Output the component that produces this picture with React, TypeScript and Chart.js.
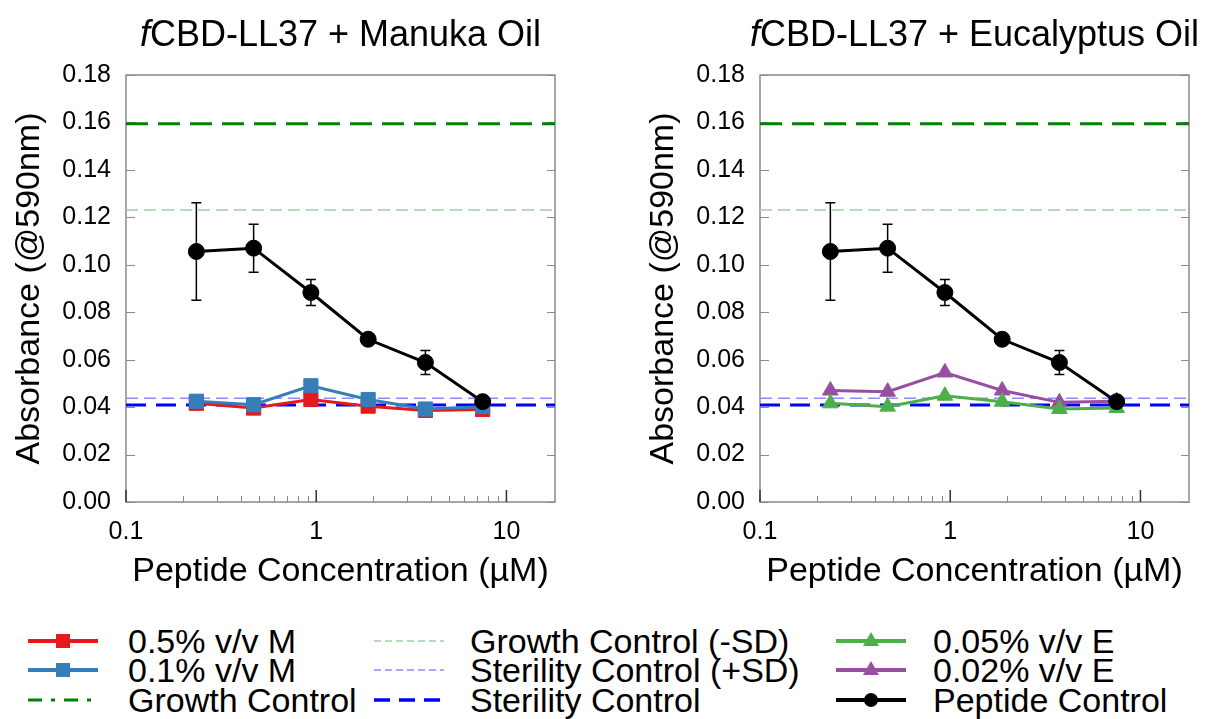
import React, { useEffect, useRef } from 'react';
import { Chart, registerables } from 'chart.js';

Chart.register(...registerables);

// ---- data ----
const concentrations = [0.234375, 0.46875, 0.9375, 1.875, 3.75, 7.5];

const peptideControl = [0.1056, 0.107, 0.0883, 0.0686, 0.0588, 0.0423];
const peptideControlSD = [0.0206, 0.0101, 0.0055, 0.002, 0.0051, 0.001];

const manuka05 = [0.0416, 0.0396, 0.0432, 0.0404, 0.0386, 0.039];
const manuka01 = [0.0425, 0.041, 0.049, 0.0432, 0.0392, 0.0402];

const eucalyptus005 = [0.0416, 0.0402, 0.0448, 0.0423, 0.0392, 0.0396];
const eucalyptus002 = [0.047, 0.0465, 0.0546, 0.047, 0.042, 0.0425];

const growthControl = 0.1594;
const growthControlMinusSD = 0.1231;
const sterilityControlPlusSD = 0.0437;
const sterilityControl = 0.0409;

const xMin = 0.1;
const xMax = 18;
const xMajorTicks = [0.1, 1, 10];
const xMinorTicks = [0.2, 0.3, 0.4, 0.5, 0.6, 0.7, 0.8, 0.9, 2, 3, 4, 5, 6, 7, 8, 9];
const yMin = 0;
const yMax = 0.18;
const yStep = 0.02;

const legendCol1 = ['0.5% v/v M', '0.1% v/v M', 'Growth Control'];
const legendCol2 = ['Growth Control (-SD)', 'Sterility Control (+SD)', 'Sterility Control'];
const legendCol3 = ['0.05% v/v E', '0.02% v/v E', 'Peptide Control'];

// ---- styles ----
const FONT = '"Liberation Sans", Arial, Helvetica, sans-serif';
const RED = '#e41a1c';
const BLUE = '#377eb8';
const GREEN = '#4daf4a';
const PURPLE = '#984ea3';
const GROWTH = '#008000';
const GROWTH_SD = '#a3d0a3';
const STERILE = '#0000ff';
const STERILE_SD = '#8c8cff';
const AXIS = '#8a8a8a';

const toPoints = (vals: number[]) => concentrations.map((c, i) => ({ x: c, y: vals[i] }));
const hLine = (v: number) => [
  { x: xMin, y: v },
  { x: xMax, y: v },
];

function seriesDataset(label: string, vals: number[], color: string, style: string, radius: number) {
  return {
    label,
    data: toPoints(vals),
    borderColor: color,
    backgroundColor: color,
    borderWidth: 3,
    pointStyle: style,
    pointRadius: radius,
    pointBorderWidth: 1,
    pointBorderColor: color,
    pointBackgroundColor: color,
  };
}

function refDataset(label: string, v: number, color: string, width: number, dash: number[]) {
  return {
    label,
    data: hLine(v),
    borderColor: color,
    backgroundColor: color,
    borderWidth: width,
    borderDash: dash,
    pointRadius: 0,
  };
}

function controlDatasets() {
  return [
    refDataset('Sterility Control', sterilityControl, STERILE, 3, [20, 10]),
    refDataset('Sterility Control (+SD)', sterilityControlPlusSD, STERILE_SD, 1.5, [12, 6]),
    refDataset('Growth Control (-SD)', growthControlMinusSD, GROWTH_SD, 1.5, [12, 6]),
    refDataset('Growth Control', growthControl, GROWTH, 3, [22, 10]),
  ];
}

// frame around the plot with inward tick marks
const framePlugin = {
  id: 'frame',
  beforeDatasetsDraw(chart: any) {
    const { ctx, chartArea: a, scales } = chart;
    const x = scales.x;
    const y = scales.y;
    ctx.save();
    ctx.strokeStyle = AXIS;
    ctx.lineWidth = 1.5;
    ctx.strokeRect(a.left, a.top, a.right - a.left, a.bottom - a.top);
    ctx.beginPath();
    ctx.lineWidth = 1;
    for (const t of y.ticks) {
      const py = Math.round(y.getPixelForValue(t.value)) + 0.5;
      ctx.moveTo(a.left, py);
      ctx.lineTo(a.left + 9, py);
      ctx.moveTo(a.right, py);
      ctx.lineTo(a.right - 8, py);
    }
    for (const v of xMinorTicks) {
      const px = Math.round(x.getPixelForValue(v)) + 0.5;
      ctx.moveTo(px, a.bottom);
      ctx.lineTo(px, a.bottom - 6);
    }
    ctx.stroke();
    ctx.beginPath();
    ctx.strokeStyle = '#333';
    ctx.lineWidth = 1.5;
    for (const v of xMajorTicks) {
      const px = x.getPixelForValue(v);
      ctx.moveTo(px, a.bottom);
      ctx.lineTo(px, a.bottom - 12);
    }
    ctx.stroke();
    ctx.restore();
  },
};

// vertical error bars for datasets carrying an `errors` array
const errorBarPlugin = {
  id: 'errorBars',
  afterDatasetsDraw(chart: any) {
    const { ctx, scales } = chart;
    const y = scales.y;
    chart.data.datasets.forEach((ds: any, di: number) => {
      if (!ds.errors) return;
      const meta = chart.getDatasetMeta(di);
      ctx.save();
      ctx.strokeStyle = '#000';
      ctx.lineWidth = 1.5;
      meta.data.forEach((pt: any, i: number) => {
        const v = ds.data[i].y;
        const e = ds.errors[i];
        const top = y.getPixelForValue(v + e);
        const bot = y.getPixelForValue(v - e);
        ctx.beginPath();
        ctx.moveTo(pt.x, top);
        ctx.lineTo(pt.x, bot);
        ctx.moveTo(pt.x - 5, top);
        ctx.lineTo(pt.x + 5, top);
        ctx.moveTo(pt.x - 5, bot);
        ctx.lineTo(pt.x + 5, bot);
        ctx.stroke();
      });
      ctx.restore();
    });
  },
};

// panel title with an italic leading letter, centred over the plot area
const panelTitlePlugin = {
  id: 'panelTitle',
  afterDraw(chart: any, _args: any, opts: any) {
    if (!opts || !opts.text) return;
    const { ctx, chartArea: a } = chart;
    ctx.save();
    const italic = `italic 36px ${FONT}`;
    const normal = `36px ${FONT}`;
    ctx.font = italic;
    const w1 = ctx.measureText(opts.prefix).width;
    ctx.font = normal;
    const w2 = ctx.measureText(opts.text).width;
    const start = (a.left + a.right) / 2 - (w1 + w2) / 2;
    ctx.fillStyle = '#000';
    ctx.textBaseline = 'alphabetic';
    ctx.textAlign = 'left';
    ctx.font = italic;
    ctx.fillText(opts.prefix, start, 46);
    ctx.font = normal;
    ctx.fillText(opts.text, start + w1, 46);
    ctx.restore();
  },
};

function makeOptions(width: number, titleText: string) {
  return {
    animation: false,
    responsive: false,
    devicePixelRatio: 1,
    events: [],
    layout: { padding: { top: 75, left: 0, right: width - 555, bottom: 0 } },
    plugins: {
      legend: { display: false },
      tooltip: { enabled: false },
      title: { display: false },
      panelTitle: { prefix: 'f', text: titleText },
    },
    scales: {
      x: {
        type: 'logarithmic',
        position: 'bottom',
        min: xMin,
        max: xMax,
        afterBuildTicks: (s: any) => {
          s.ticks = xMajorTicks.map((v) => ({ value: v, major: true }));
        },
        afterFit: (s: any) => {
          s.height = 98;
        },
        grid: { display: false, drawTicks: false },
        border: { display: false },
        ticks: {
          autoSkip: false,
          maxRotation: 0,
          minRotation: 0,
          padding: 15,
          color: '#000',
          font: { family: FONT, size: 25 },
          callback: (v: any) => String(v),
        },
        title: {
          display: true,
          text: 'Peptide Concentration (µM)',
          color: '#000',
          font: { family: FONT, size: 34, lineHeight: 1.2 },
          padding: { top: 0, bottom: 8 },
        },
      },
      y: {
        type: 'linear',
        position: 'left',
        min: yMin,
        max: yMax,
        afterFit: (s: any) => {
          s.width = 126;
        },
        grid: { display: false, drawTicks: false },
        border: { display: false },
        ticks: {
          stepSize: yStep,
          padding: 15,
          color: '#000',
          font: { family: FONT, size: 25 },
          callback: (v: any) => Number(v).toFixed(2),
        },
        title: {
          display: true,
          text: 'Absorbance (@590nm)',
          color: '#000',
          font: { family: FONT, size: 34, lineHeight: 1.2 },
          padding: { top: 9, bottom: 0 },
        },
      },
    },
  };
}

function Panel(props: { left: number; width: number; title: string; series: any[] }) {
  const ref = useRef<HTMLCanvasElement | null>(null);
  useEffect(() => {
    if (!ref.current) return;
    const peptide: any = {
      ...seriesDataset('Peptide Control', peptideControl, '#000', 'circle', 8),
      errors: peptideControlSD,
    };
    const chart = new Chart(ref.current, {
      type: 'line',
      data: { datasets: [peptide, ...props.series, ...controlDatasets()] },
      options: makeOptions(props.width, props.title) as any,
      plugins: [framePlugin, errorBarPlugin, panelTitlePlugin],
    } as any);
    return () => chart.destroy();
  }, []);
  return (
    <canvas
      ref={ref}
      width={props.width}
      height={600}
      style={{ position: 'absolute', left: props.left, top: 0, width: props.width, height: 600 }}
    />
  );
}

type Sample = { color: string; width: number; dash?: string; marker?: 'rect' | 'triangle' | 'circle' };

function LegendSample({ s }: { s: Sample }) {
  const w = 70;
  const h = 30;
  const cx = w / 2;
  const cy = h / 2;
  let marker: any = null;
  if (s.marker === 'rect') marker = <rect x={cx - 7} y={cy - 7} width={14} height={14} fill={s.color} />;
  if (s.marker === 'triangle')
    marker = <polygon points={`${cx},${cy - 9} ${cx + 8},${cy + 5} ${cx - 8},${cy + 5}`} fill={s.color} />;
  if (s.marker === 'circle') marker = <circle cx={cx} cy={cy} r={7} fill={s.color} />;
  return (
    <svg width={w} height={h} style={{ display: 'block' }}>
      <line x1={0} y1={cy} x2={w} y2={cy} stroke={s.color} strokeWidth={s.width} strokeDasharray={s.dash} />
      {marker}
    </svg>
  );
}

const legendRowsY = [641, 670, 700];
const legendColumns: { lineX: number; textX: number; labels: string[]; samples: Sample[] }[] = [
  {
    lineX: 28,
    textX: 128,
    labels: legendCol1,
    samples: [
      { color: RED, width: 4, marker: 'rect' },
      { color: BLUE, width: 4, marker: 'rect' },
      { color: GROWTH, width: 3, dash: '14 9 4 9' },
    ],
  },
  {
    lineX: 374,
    textX: 470,
    labels: legendCol2,
    samples: [
      { color: GROWTH_SD, width: 1.5, dash: '7 4' },
      { color: STERILE_SD, width: 1.5, dash: '7 4' },
      { color: STERILE, width: 3.5, dash: '16 9' },
    ],
  },
  {
    lineX: 836,
    textX: 933,
    labels: legendCol3,
    samples: [
      { color: GREEN, width: 4, marker: 'triangle' },
      { color: PURPLE, width: 4, marker: 'triangle' },
      { color: '#000', width: 4, marker: 'circle' },
    ],
  },
];

function Legend() {
  const items: any[] = [];
  legendColumns.forEach((col, ci) => {
    col.labels.forEach((label, ri) => {
      const cy = legendRowsY[ri];
      items.push(
        <div key={`s${ci}${ri}`} style={{ position: 'absolute', left: col.lineX, top: cy - 15 }}>
          <LegendSample s={col.samples[ri]} />
        </div>,
        <div
          key={`t${ci}${ri}`}
          style={{
            position: 'absolute',
            left: col.textX,
            top: cy - 17,
            fontFamily: FONT,
            fontSize: 34,
            lineHeight: '34px',
            whiteSpace: 'nowrap',
            color: '#000',
          }}
        >
          {label}
        </div>
      );
    });
  });
  return <>{items}</>;
}

export default function App() {
  const manukaSeries = [
    seriesDataset('0.1% v/v M', manuka01, BLUE, 'rect', 10),
    seriesDataset('0.5% v/v M', manuka05, RED, 'rect', 10),
  ];
  const eucalyptusSeries = [
    seriesDataset('0.05% v/v E', eucalyptus005, GREEN, 'triangle', 9),
    seriesDataset('0.02% v/v E', eucalyptus002, PURPLE, 'triangle', 9),
  ];
  return (
    <div style={{ position: 'fixed', left: 0, top: 0, width: 1206, height: 719, background: '#fff', overflow: 'hidden' }}>
      <Panel left={0} width={600} title="CBD-LL37 + Manuka Oil" series={manukaSeries} />
      <Panel left={634} width={572} title="CBD-LL37 + Eucalyptus Oil" series={eucalyptusSeries} />
      <Legend />
    </div>
  );
}
